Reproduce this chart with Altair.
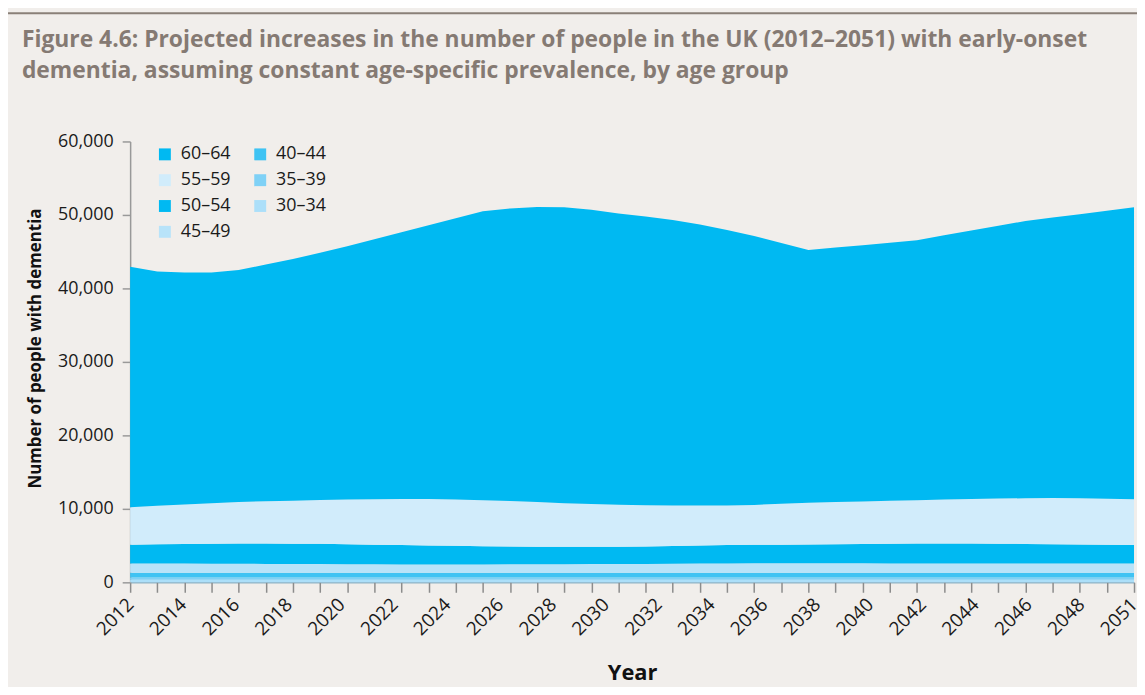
import altair as alt
import pandas as pd

# ---------------- data ----------------
title_lines = [
    "Figure 4.6: Projected increases in the number of people in the UK (2012–2051) with early-onset",
    "dementia, assuming constant age-specific prevalence, by age group",
]

tick_labels = ["2012", "2014", "2016", "2018", "2020", "2022", "2024", "2026", "2028", "2030",
               "2032", "2034", "2036", "2038", "2040", "2042", "2044", "2046", "2048", "2051"]

n_points = 38  # projection points along the x axis

# age groups, bottom of the stack to top
age_groups = ["30–34", "35–39", "40–44", "45–49", "50–54", "55–59", "60–64"]

v_30_34 = [360, 360, 360, 360, 360, 360, 360, 360, 360, 360, 360, 360, 360, 360, 360, 360, 360, 360, 360,
           360, 360, 360, 360, 360, 360, 360, 360, 360, 360, 360, 360, 360, 360, 360, 360, 360, 360, 360]
v_35_39 = [310, 310, 310, 310, 310, 310, 310, 310, 310, 310, 310, 310, 310, 310, 310, 310, 310, 310, 310,
           310, 310, 310, 310, 310, 310, 310, 310, 310, 310, 310, 310, 310, 310, 310, 310, 310, 310, 310]
v_40_44 = [650, 650, 650, 650, 650, 650, 650, 650, 650, 650, 650, 650, 650, 650, 650, 650, 650, 650, 650,
           650, 650, 650, 650, 650, 650, 650, 650, 650, 650, 650, 650, 650, 650, 650, 650, 650, 650, 650]
v_45_49 = [1250, 1240, 1230, 1220, 1210, 1190, 1170, 1160, 1140, 1130, 1120, 1110, 1110, 1120, 1130, 1140,
           1150, 1160, 1170, 1190, 1210, 1230, 1250, 1270, 1290, 1290, 1280, 1270, 1260, 1250, 1250, 1250,
           1250, 1250, 1250, 1250, 1250, 1250]
v_50_54 = [2560, 2610, 2660, 2710, 2740, 2760, 2770, 2760, 2730, 2680, 2630, 2590, 2540, 2480, 2430, 2390,
           2360, 2350, 2360, 2380, 2430, 2470, 2500, 2510, 2520, 2550, 2590, 2640, 2680, 2700, 2700, 2700,
           2690, 2660, 2630, 2590, 2550, 2520]
v_55_59 = [5100, 5250, 5390, 5530, 5660, 5760, 5860, 5960, 6070, 6180, 6270, 6310, 6310, 6260, 6180, 6080,
           5950, 5820, 5700, 5590, 5490, 5420, 5390, 5440, 5570, 5680, 5730, 5770, 5840, 5910, 5990, 6070,
           6140, 6210, 6280, 6280, 6260, 6220]
v_60_64 = [32730, 31870, 31550, 31370, 31570, 32220, 32880, 33650, 34490, 35390, 36310, 37270, 38270,
           39320, 39830, 40140, 40250, 40050, 39650, 39320, 38850, 38260, 37480, 36610, 35480, 34380,
           34640, 34890, 35130, 35390, 35960, 36530, 37120, 37740, 38160, 38660, 39190, 39720]

series = [v_30_34, v_35_39, v_40_44, v_45_49, v_50_54, v_55_59, v_60_64]

# legend order (two columns, filled column by column)
legend_order = ["60–64", "55–59", "50–54", "45–49", "40–44", "35–39", "30–34"]
legend_colors = ["#00B9F2", "#D1ECFB", "#00B9F2", "#B8E3F9", "#3FC3F3", "#7FD1F6", "#ACDFF9"]

rows = []
for rank, (grp, vals) in enumerate(zip(age_groups, series)):
    for i, v in enumerate(vals):
        rows.append({"idx": i, "group": grp, "value": v, "rank": rank})
df = pd.DataFrame(rows)

label_pos = [k * (n_points - 1) / (len(tick_labels) - 1) for k in range(len(tick_labels))]
label_js = "[" + ",".join("'" + t + "'" for t in tick_labels) + "]"
label_expr = label_js + "[round(datum.value*" + str(len(tick_labels) - 1) + "/" + str(n_points - 1) + ")]"

FONT = "Open Sans"
W, H = 1011, 444

xscale = alt.Scale(domain=[0, n_points - 1], nice=False, zero=False)

areas = alt.Chart(df).mark_area(interpolate="linear", opacity=1).encode(
    x=alt.X("idx:Q", scale=xscale,
            axis=alt.Axis(orient="bottom", values=label_pos, labelExpr=label_expr,
                          ticks=False, grid=False, domain=True, domainColor="#8FB3C6",
                          domainWidth=1.5, labelAngle=-45, labelAlign="right",
                          labelBaseline="middle", labelFontSize=19, labelColor="#1A1A1A",
                          labelFont=FONT, labelPadding=19, labelFlush=False, labelOverlap=False,
                          title="Year", titleFont=FONT, titleFontSize=22, titleFontWeight="bold",
                          titleColor="#111111", titlePadding=24)),
    y=alt.Y("value:Q", stack="zero", scale=alt.Scale(domain=[0, 60000], nice=False),
            axis=alt.Axis(values=[0, 10000, 20000, 30000, 40000, 50000, 60000], format=",d",
                          grid=False, domainColor="#999999", domainWidth=1.5,
                          tickColor="#999999", tickWidth=1.5, tickSize=8,
                          labelFontSize=18, labelColor="#1A1A1A", labelFont=FONT, labelPadding=9,
                          title="Number of people with dementia", titleFont=FONT, titleFontSize=17,
                          titleFontWeight="bold", titleColor="#111111",
                          titleX=-95, titleY=208, titleBaseline="middle", titleAngle=270)),
    color=alt.Color("group:N", scale=alt.Scale(domain=legend_order, range=legend_colors),
                    legend=alt.Legend(orient="none", legendX=26, legendY=4, columns=2,
                                      symbolType="square", symbolSize=144, symbolStrokeWidth=0,
                                      symbolOpacity=1, labelFontSize=18, labelColor="#1A1A1A",
                                      labelFont=FONT, labelOffset=7, rowPadding=8,
                                      columnPadding=20, padding=0, title=None)),
    order=alt.Order("rank:Q", sort="ascending"),
)

tick_layer = alt.Chart(df).mark_point(opacity=0).encode(
    x=alt.X("idx:Q", scale=xscale,
            axis=alt.Axis(orient="bottom", values=list(range(n_points)), labels=False,
                          domain=False, ticks=True, tickSize=10, tickColor="#8C8C8C",
                          tickWidth=1.5, grid=False, title=None)),
)

border = alt.Chart(pd.DataFrame({"a": [0]})).mark_rule(color="#8A8078", strokeWidth=2).encode(
    x=alt.value(-126), x2=alt.value(W + 10), y=alt.value(-129)
)

chart = alt.layer(areas, tick_layer, border).resolve_axis(x="independent").properties(
    width=W, height=H,
    autosize=alt.AutoSizeParams(type="none"),
    padding={"left": 123, "top": 132, "right": 3, "bottom": 103},
    background="#F1EEEB",
    title=alt.Title(title_lines, anchor="start", frame="group", dx=-109, dy=71, offset=0,
                    font=FONT, fontSize=23, fontWeight="bold", color="#857A73",
                    lineHeight=31.5),
).configure_view(stroke=None)

chart.save("out.html", embed_options={"renderer": "svg", "actions": False})
